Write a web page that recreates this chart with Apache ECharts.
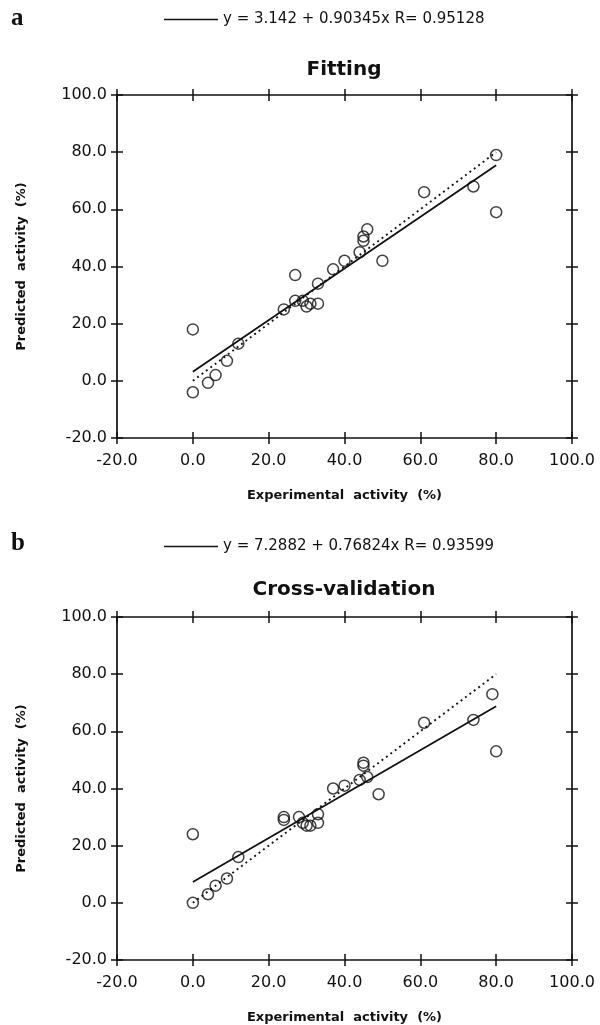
<!DOCTYPE html>
<html><head><meta charset="utf-8">
<script src="https://cdn.jsdelivr.net/npm/echarts@6/dist/echarts.min.js"></script>
<style>html,body{margin:0;padding:0;background:#fff}#c{width:600px;height:1025px}</style>
</head><body><div id="c"></div>
<script>
// ---- data ----
const axisTicks = [-20, 0, 20, 40, 60, 80, 100];
const fitExp  = [0, 0, 4, 6, 9, 12, 24, 27, 27, 29, 30, 31, 33, 33, 37, 40, 44, 45, 45, 46, 50, 61, 74, 80, 80];
const fitPred = [18, -4, -0.7, 2, 7, 13, 25, 37, 28, 28, 26, 27, 27, 34, 39, 42, 45, 49, 50.5, 53, 42, 66, 68, 79, 59];
const cvExp   = [0, 0, 4, 6, 9, 12, 24, 24, 28, 29, 30, 31, 33, 33, 37, 40, 44, 45, 45, 46, 49, 61, 74, 79, 80];
const cvPred  = [0, 24, 3, 6, 8.5, 16, 30, 29, 30, 28, 27, 27, 31, 28, 40, 41, 43, 49, 48, 44, 38, 63, 64, 73, 53];
const fitCoefA = [3.142, 0.90345];   // intercept, slope
const fitCoefB = [7.2882, 0.76824];
const lineRange = [0, 80];
const labelA = 'y = 3.142 + 0.90345x R= 0.95128';
const labelB = 'y = 7.2882 + 0.76824x R= 0.93599';
const titles = ['Fitting', 'Cross-validation'];
const xName = 'Experimental  activity  (%)';
const yName = 'Predicted  activity  (%)';

// ---- build ----
const BLACK = '#111';
const pairs = (xs, ys) => xs.map((x, i) => [x, ys[i]]);
const fitLine = c => lineRange.map(x => [x, c[0] + c[1] * x]);
const idLine = () => lineRange.map(x => [x, x]);

const grids = [
  {left: 117, top: 95, width: 455, height: 343},
  {left: 117, top: 617, width: 455, height: 343}
];
const tickFont = {fontFamily: 'DejaVu Sans', fontSize: 16, color: BLACK};
const nameFont = {fontFamily: 'DejaVu Sans', fontWeight: 'bold', fontSize: 13, color: BLACK};

function axesFor(dim, g) {
  const base = {gridIndex: g, type: 'value', min: axisTicks[0], max: axisTicks[axisTicks.length - 1],
    interval: axisTicks[1] - axisTicks[0], splitLine: {show: false}};
  const pos = dim === 'x' ? ['bottom', 'top'] : ['left', 'right'];
  const lineOn = {show: true, onZero: false, lineStyle: {color: BLACK, width: 1.7}};
  const tick = inside => ({show: true, inside, length: 6, lineStyle: {color: BLACK, width: 1.5}});
  const main = Object.assign({}, base, {
    position: pos[0], axisLine: lineOn, axisTick: tick(false),
    axisLabel: Object.assign({show: true, margin: dim === 'x' ? 15 : 10, formatter: v => v.toFixed(1)}, tickFont),
    name: dim === 'x' ? xName : yName, nameLocation: 'middle', nameGap: dim === 'x' ? 51 : 89,
    nameTextStyle: nameFont
  });
  return [
    main,
    Object.assign({}, base, {position: pos[0], axisLine: {show: false, onZero: false}, axisTick: tick(true), axisLabel: {show: false}}),
    Object.assign({}, base, {position: pos[1], axisLine: lineOn, axisTick: tick(false), axisLabel: {show: false}}),
    Object.assign({}, base, {position: pos[1], axisLine: {show: false, onZero: false}, axisTick: tick(true), axisLabel: {show: false}})
  ];
}

const xAxis = [].concat(axesFor('x', 0), axesFor('x', 1));
const yAxis = [].concat(axesFor('y', 0), axesFor('y', 1));

function seriesFor(g, exp, pred, coef, label) {
  const ax = g * 4;
  return [
    {type: 'line', name: label, xAxisIndex: ax, yAxisIndex: ax, data: fitLine(coef), symbol: 'none',
      lineStyle: {color: BLACK, width: 1.8, type: 'solid'}, itemStyle: {color: BLACK}, silent: true, z: 2},
    {type: 'line', name: 'ideal' + g, xAxisIndex: ax, yAxisIndex: ax, data: idLine(), symbol: 'none',
      lineStyle: {color: BLACK, width: 1.9, type: [1.9, 3.6]}, silent: true, z: 2},
    {type: 'scatter', name: 'pts' + g, xAxisIndex: ax, yAxisIndex: ax, data: pairs(exp, pred),
      symbol: 'circle', symbolSize: 11,
      itemStyle: {color: 'rgba(0,0,0,0)', borderColor: BLACK, borderWidth: 1.5}, z: 3}
  ];
}

const legendStyle = (name, top) => ({
  data: [{name: name, icon: 'rect'}], left: 164, top: top, padding: 0, itemWidth: 54, itemHeight: 1.6,
  selectedMode: false,
  textStyle: {fontFamily: 'DejaVu Sans', fontSize: 15, color: BLACK}
});

const option = {
  animation: false,
  backgroundColor: '#fff',
  grid: grids,
  xAxis, yAxis,
  title: [
    {text: 'a', left: 11, top: 6, padding: 0, textStyle: {fontFamily: 'Liberation Serif', fontWeight: 'bold', fontSize: 25, color: BLACK}},
    {text: titles[0], left: 344, textAlign: 'center', top: 60, padding: 0, textStyle: {fontFamily: 'DejaVu Sans', fontWeight: 'bold', fontSize: 20, color: BLACK}},
    {text: 'b', left: 11, top: 531, padding: 0, textStyle: {fontFamily: 'Liberation Serif', fontWeight: 'bold', fontSize: 25, color: BLACK}},
    {text: titles[1], left: 344, textAlign: 'center', top: 580, padding: 0, textStyle: {fontFamily: 'DejaVu Sans', fontWeight: 'bold', fontSize: 20, color: BLACK}}
  ],
  legend: [legendStyle(labelA, 12), legendStyle(labelB, 539)],
  series: [].concat(seriesFor(0, fitExp, fitPred, fitCoefA, labelA), seriesFor(1, cvExp, cvPred, fitCoefB, labelB))
};

const chart = echarts.init(document.getElementById('c'), null, {renderer: 'canvas'});
chart.setOption(option);
</script>
</body></html>
